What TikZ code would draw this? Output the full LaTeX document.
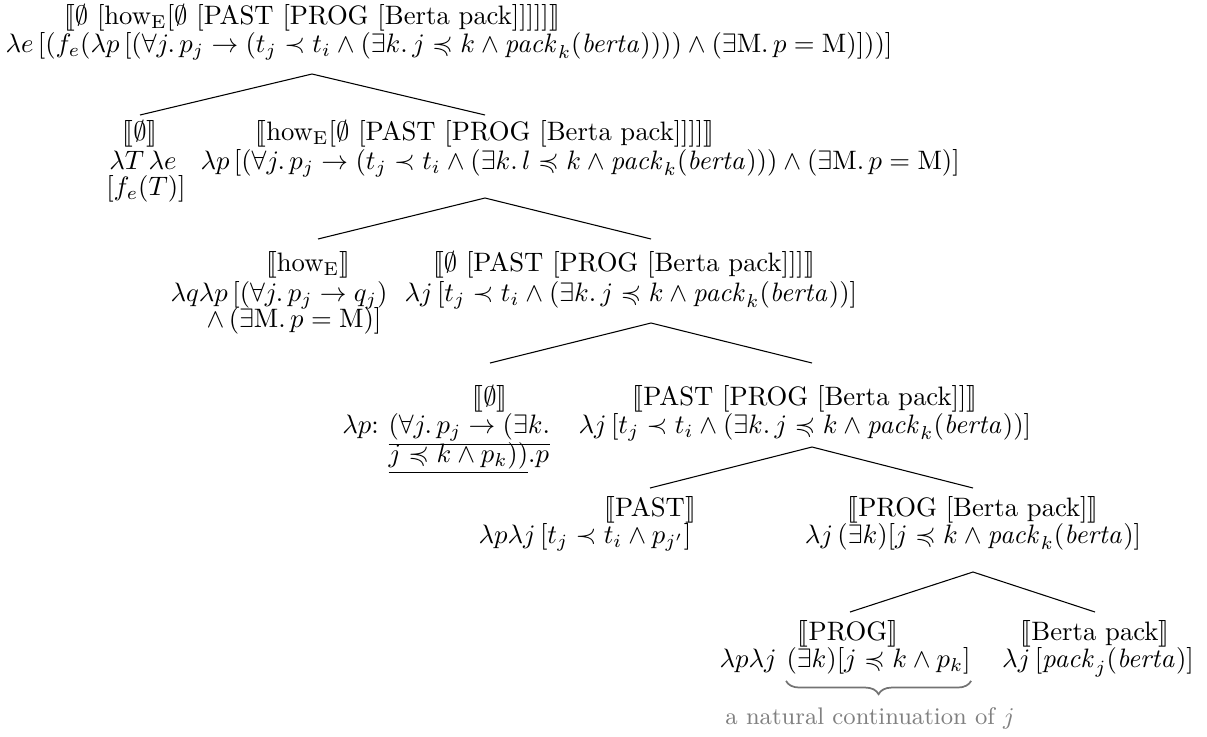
\documentclass[tikz,border=0pt]{standalone}
\usepackage{amsmath,amssymb,stmaryrd}
\usetikzlibrary{decorations.pathreplacing,calc}
\newcommand{\den}[1]{\llbracket #1\rrbracket}
\newcommand{\pk}[1]{\mathit{pack}_{#1}(\mathit{berta})}
\begin{document}
\begin{tikzpicture}[x=0.375pt,y=-0.375pt,
  t/.style={inner sep=0pt,anchor=base},
  tl/.style={inner sep=0pt,anchor=base west},
  edgeline/.style={line width=0.4pt},
  note/.style={inner sep=0pt,anchor=base,text=black!50,font=\small}]
\useasboundingbox (0,0) rectangle (1207,736);
% root
\node[t] (r1) at (312,24) {$\den{\emptyset\ [\mathrm{how_E}[\emptyset\ [\mathrm{PAST}\ [\mathrm{PROG}\ [\mathrm{Berta\ pack}]]]]]}$};
\node[tl] (r2) at (5,52) {$\lambda e\,[(f_e(\lambda p\,[(\forall j.\,p_j \rightarrow (t_j \prec t_i \wedge (\exists k.\,j \preccurlyeq k \wedge \pk{k}))) \wedge (\exists \mathrm{M}.\,p = \mathrm{M})]))]$};
% level 2
\node[t] (a1) at (140,140) {$\den{\emptyset}$};
\node[t] (a2) at (143,169) {$\lambda T\,\lambda e$};
\node[t] (a3) at (146,195) {$[f_e(T)]$};
\node[t] (b1) at (485,140) {$\den{\mathrm{how_E}[\emptyset\ [\mathrm{PAST}\ [\mathrm{PROG}\ [\mathrm{Berta\ pack}]]]]}$};
\node[tl] (b2) at (200,169) {$\lambda p\,[(\forall j.\,p_j \rightarrow (t_j \prec t_i \wedge (\exists k.\,l \preccurlyeq k \wedge \pk{k})) \wedge (\exists \mathrm{M}.\,p = \mathrm{M})]$};
% level 3
\node[t] (c1) at (308,271) {$\den{\mathrm{how_E}}$};
\node[tl] (c2) at (170,301) {$\lambda q\lambda p\,[(\forall j.\,p_j \rightarrow q_j)$};
\node[t] (c3) at (294,327) {$\wedge\,(\exists \mathrm{M}.\,p = \mathrm{M})]$};
\node[t] (d1) at (624,271) {$\den{\emptyset\ [\mathrm{PAST}\ [\mathrm{PROG}\ [\mathrm{Berta\ pack}]]]}$};
\node[tl] (d2) at (404,301) {$\lambda j\,[t_j \prec t_i \wedge (\exists k.\,j \preccurlyeq k \wedge \pk{k})]$};
% level 4
\node[t] (e1) at (490,405) {$\den{\emptyset}$};
\node[tl] (e2b) at (388,433) {$\underline{(\forall j.\,p_j \rightarrow (\exists k.}$};
\node[t,anchor=base east] (e2a) at ([xshift=-3.3pt]e2b.base west) {$\lambda p{:}$};
\node[tl] (e3) at ($(e2b.base west)+(0,29)$) {$\underline{j \preccurlyeq k \wedge p_k))}.p$};
\node[t] (f1) at (805,405) {$\den{\mathrm{PAST}\ [\mathrm{PROG}\ [\mathrm{Berta\ pack}]]}$};
\node[tl] (f2) at (578,433) {$\lambda j\,[t_j \prec t_i \wedge (\exists k.\,j \preccurlyeq k \wedge \pk{k})]$};
% level 5
\node[t] (g1) at (650,516) {$\den{\mathrm{PAST}}$};
\node[tl] (g2) at (478,543) {$\lambda p\lambda j\,[t_j \prec t_i \wedge p_{j'}]$};
\node[t] (h1) at (973,516) {$\den{\mathrm{PROG}\ [\mathrm{Berta\ pack}]}$};
\node[t] (h2) at (973,543) {$\lambda j\,(\exists k)[j \preccurlyeq k \wedge \pk{k}]$};
% level 6
\node[t] (i1) at (848,640) {$\den{\mathrm{PROG}}$};
\node[tl] (i2b) at (786,667) {$(\exists k)[j \preccurlyeq k \wedge p_k]$};
\node[t,anchor=base east] (i2a) at ([xshift=-3.3pt]i2b.base west) {$\lambda p\lambda j$};
\node[t] (k1) at (1095,640) {$\den{\mathrm{Berta\ pack}}$};
\node[t] (k2) at (1098,667) {$\lambda j\,[\pk{j}]$};
\draw[black!55,line width=0.65pt,decorate,decoration={brace,mirror,amplitude=5pt}]
  ([yshift=-2.5pt]i2b.south west) -- ([yshift=-2.5pt]i2b.south east);
\node[note] (nt) at (870,724) {a natural continuation of $j$};
% edges
\coordinate (p1) at (312,74);  \coordinate (q1l) at (140,115); \coordinate (q1r) at (485,115);
\coordinate (p2) at (485,198); \coordinate (q2l) at (318,239); \coordinate (q2r) at (651,239);
\coordinate (p3) at (651,323); \coordinate (q3l) at (490,363); \coordinate (q3r) at (812,363);
\coordinate (p4) at (812,447); \coordinate (q4l) at (650,488); \coordinate (q4r) at (973,488);
\coordinate (p5) at (973,572); \coordinate (q5l) at (850,612); \coordinate (q5r) at (1095,612);
\draw[edgeline] (q1l) -- (p1) -- (q1r);
\draw[edgeline] (q2l) -- (p2) -- (q2r);
\draw[edgeline] (q3l) -- (p3) -- (q3r);
\draw[edgeline] (q4l) -- (p4) -- (q4r);
\draw[edgeline] (q5l) -- (p5) -- (q5r);
\end{tikzpicture}
\end{document}
